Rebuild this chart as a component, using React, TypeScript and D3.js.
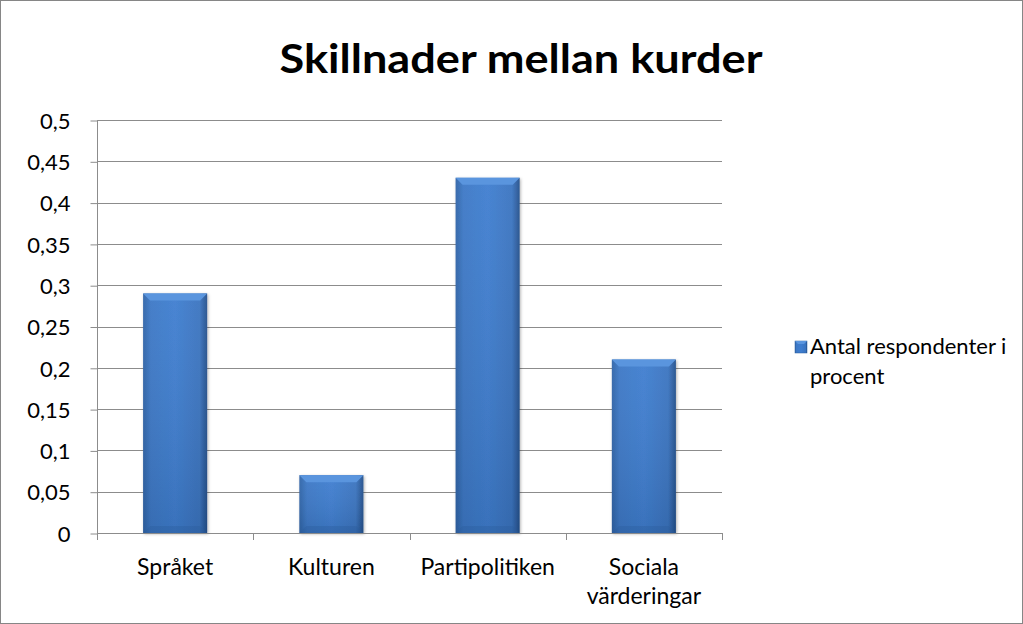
import { useEffect, useRef } from 'react';
import * as d3 from 'd3';

const categories = ['Språket', 'Kulturen', 'Partipolitiken', 'Sociala värderingar'];
const values = [0.29, 0.07, 0.43, 0.21];
const yTicks = [0, 0.05, 0.1, 0.15, 0.2, 0.25, 0.3, 0.35, 0.4, 0.45, 0.5];
const seriesName = ['Antal respondenter i', 'procent'];
const title = 'Skillnader mellan kurder';

const W = 1023;
const H = 624;
const FONT = 'Lato, "Open Sans", sans-serif';

export default function App() {
  const svgRef = useRef<SVGSVGElement>(null);

  useEffect(() => {
    document.body.style.margin = '0';
    if (!svgRef.current) return;
    const svg = d3.select(svgRef.current);
    svg.selectAll('*').remove();

    const left = 97;
    const right = 722;
    const top = 120;
    const bottom = 533;

    const x = d3.scaleBand<string>().domain(categories).range([left, right]).paddingInner(0.59).paddingOuter(0.295);
    const y = d3.scaleLinear().domain([0, 0.5]).range([bottom, top]);

    const defs = svg.append('defs');
    const grad = defs.append('linearGradient').attr('id', 'barGrad').attr('x1', 0).attr('x2', 1).attr('y1', 0).attr('y2', 0);
    grad.append('stop').attr('offset', '0%').attr('stop-color', '#2f64a8');
    grad.append('stop').attr('offset', '12%').attr('stop-color', '#3c78c6');
    grad.append('stop').attr('offset', '50%').attr('stop-color', '#3f7ed0');
    grad.append('stop').attr('offset', '88%').attr('stop-color', '#3a74c0');
    grad.append('stop').attr('offset', '100%').attr('stop-color', '#24508c');
    const vgrad = defs.append('linearGradient').attr('id', 'barShade').attr('x1', 0).attr('x2', 0).attr('y1', 0).attr('y2', 1);
    vgrad.append('stop').attr('offset', '0%').attr('stop-color', '#ffffff').attr('stop-opacity', 0.05);
    vgrad.append('stop').attr('offset', '100%').attr('stop-color', '#000000').attr('stop-opacity', 0.1);
    const filter = defs.append('filter').attr('id', 'shadow').attr('x', '-20%').attr('y', '-20%').attr('width', '140%').attr('height', '140%');
    filter.append('feDropShadow').attr('dx', 1).attr('dy', 1).attr('stdDeviation', 1.5).attr('flood-color', '#000').attr('flood-opacity', 0.3);

    // outer border
    svg.append('rect').attr('x', 0.5).attr('y', 0.5).attr('width', W - 1).attr('height', H - 1)
      .attr('fill', '#fff').attr('stroke', '#868686');

    // title
    svg.append('text').attr('x', 521).attr('y', 73).attr('text-anchor', 'middle')
      .attr('font-family', FONT).attr('font-weight', 'bold').attr('font-size', 40)
      .attr('textLength', 483).attr('lengthAdjust', 'spacingAndGlyphs')
      .attr('fill', '#000').text(title);

    // gridlines
    svg.append('g').selectAll('line').data(yTicks.slice(1)).enter().append('line')
      .attr('x1', left).attr('x2', right)
      .attr('y1', (d) => Math.round(y(d)) + 0.5).attr('y2', (d) => Math.round(y(d)) + 0.5)
      .attr('stroke', '#8c8c8c').attr('stroke-width', 1);

    // y axis
    const yAxis = d3.axisLeft(y).tickValues(yTicks).tickSize(7).tickPadding(20)
      .tickFormat((d) => String(d).replace('.', ','));
    const gy = svg.append('g').attr('transform', `translate(${left + 0.5},0.5)`).call(yAxis);
    gy.select('.domain').attr('stroke', '#8c8c8c').attr('d', `M0,${top - 0.5}V${bottom}`);
    gy.selectAll('.tick line').attr('stroke', '#8c8c8c');
    gy.selectAll('.tick text').attr('font-family', FONT).attr('font-size', 22).attr('fill', '#000').attr('dy', '0.35em');

    // bars
    const bw = x.bandwidth();
    const bev = 7;
    const bars = svg.append('g').selectAll('g').data(values).enter().append('g');
    bars.append('rect')
      .attr('x', (_, i) => x(categories[i])!).attr('y', (d) => y(d))
      .attr('width', bw).attr('height', (d) => bottom - y(d))
      .attr('fill', 'url(#barGrad)').attr('filter', 'url(#shadow)');
    bars.append('rect')
      .attr('x', (_, i) => x(categories[i])!).attr('y', (d) => y(d))
      .attr('width', bw).attr('height', (d) => bottom - y(d))
      .attr('fill', 'url(#barShade)');
    bars.append('path')
      .attr('d', (d, i) => {
        const x0 = x(categories[i])!;
        const y0 = y(d);
        return `M${x0},${y0}H${x0 + bw}L${x0 + bw - bev},${y0 + bev}H${x0 + bev}Z`;
      })
      .attr('fill', '#5a95de');
    bars.append('path')
      .attr('d', (d, i) => {
        const x0 = x(categories[i])!;
        return `M${x0},${bottom}H${x0 + bw}L${x0 + bw - bev},${bottom - bev}H${x0 + bev}Z`;
      })
      .attr('fill', '#2b5c9c').attr('opacity', 0.35);

    // x axis
    const xAxisG = svg.append('g');
    xAxisG.append('line').attr('x1', left).attr('x2', right).attr('y1', bottom + 0.5).attr('y2', bottom + 0.5).attr('stroke', '#8c8c8c');
    const bounds = categories.map((c) => x(c)! - (x.step() - bw) / 2).concat([right]);
    xAxisG.selectAll('line.tk').data(bounds).enter().append('line').attr('class', 'tk')
      .attr('x1', (d) => Math.round(d) + 0.5).attr('x2', (d) => Math.round(d) + 0.5)
      .attr('y1', bottom).attr('y2', bottom + 7).attr('stroke', '#8c8c8c');
    xAxisG.selectAll('text').data(categories).enter().append('text')
      .attr('x', (d) => x(d)! + bw / 2).attr('y', 575)
      .attr('text-anchor', 'middle').attr('font-family', FONT).attr('font-size', 23).attr('fill', '#000')
      .each(function (d) {
        const words = d.split(' ');
        const t = d3.select(this);
        if (words.length > 1 && d.length > 14) {
          words.forEach((w, k) => {
            t.append('tspan').attr('x', x(d)! + bw / 2).attr('dy', k === 0 ? 0 : 29).text(w);
          });
        } else {
          t.text(d);
        }
      });

    // legend
    const lg = svg.append('g').attr('transform', 'translate(795,341)');
    lg.append('rect').attr('x', 0).attr('y', 0).attr('width', 12).attr('height', 12)
      .attr('fill', 'url(#barGrad)').attr('stroke', '#2b5c9c').attr('stroke-width', 0.5);
    lg.append('path').attr('d', 'M0,0H12L9,3H3Z').attr('fill', '#5a95de');
    lg.append('text').attr('x', 15).attr('y', 0).attr('font-family', FONT).attr('font-size', 22).attr('fill', '#000')
      .selectAll('tspan').data(seriesName).enter().append('tspan')
      .attr('x', 15).attr('y', (_, k) => 13 + k * 30).text((d) => d);
  }, []);

  return <svg ref={svgRef} width={W} height={H} style={{ display: 'block' }} />;
}
